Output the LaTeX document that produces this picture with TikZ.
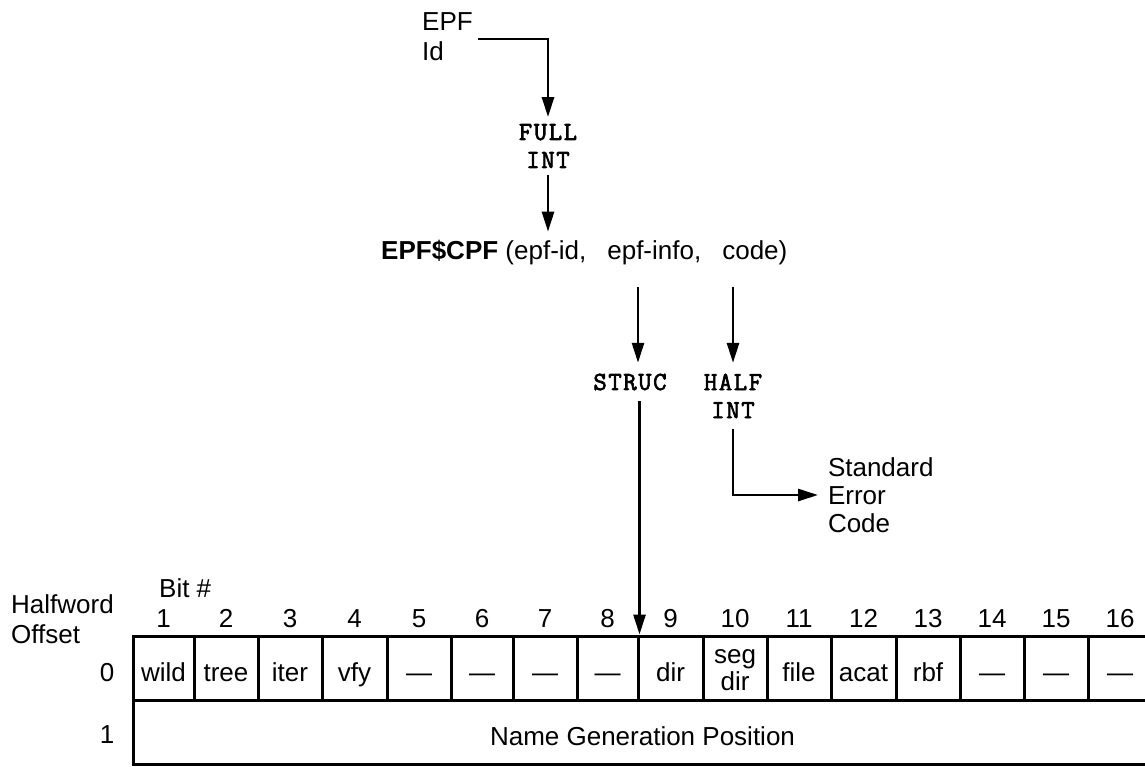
\documentclass[tikz,border=0pt]{standalone}
\usepackage{fontspec}
\setmainfont{Liberation Sans}
\newfontfamily\tyfont[LetterSpace=6,FakeBold=2.5]{Latin Modern Mono}
\usetikzlibrary{arrows.meta}
\begin{document}
\begin{tikzpicture}[x=1pt,y=-1pt,
  lbl/.style={font=\fontsize{26}{30}\selectfont, inner sep=0pt},
  tt/.style={font=\fontsize{26}{28}\tyfont, inner sep=0pt, align=center},
  arr/.style={line width=2.7pt, -{Triangle[length=20pt,width=12pt]}},
  cell/.style={draw, line width=3pt, minimum height=64pt, inner sep=0pt,
    text height=26pt, text depth=0pt, font=\fontsize{26}{28}\selectfont}
]
\useasboundingbox (0,0) rectangle (1145,766);
\clip (0,0) rectangle (1145,766);

% top flow
\node[lbl, align=left, anchor=west] (epf) at (422,37) {EPF\\Id};
\coordinate (e1) at (478,39);
\node[tt, outer sep=7pt] (full) at (548,146) {FULL\\INT};
\draw[arr] (e1) -| (full.north);

\node[lbl, anchor=west, outer ysep=9pt] (cpf) at (381,253)
  {\textbf{EPF\$CPF} (epf-id,\hspace{21pt}epf-info,\hspace{21pt}code)};
\draw[arr] (full.south) -- (full.south |- cpf.north);

\coordinate (s1) at (638,287);
\coordinate (h1) at (733,287);
\node[tt, outer sep=11pt] (struc) at (630,382) {STRUC};
\node[tt, outer sep=11pt] (half) at (733,396) {HALF\\INT};
\draw[arr] (s1) -- (s1 |- struc.north);
\draw[arr] (h1) -- (half.north);

\node[lbl, align=left, anchor=west, outer xsep=10pt,
  font=\fontsize{26}{28}\selectfont] (std) at (818,495) {Standard\\Error\\Code};
\draw[arr] (half.south) |- (std.west);

% labels
\node[lbl, anchor=base west] (bit) at (159,597) {Bit \#};
\node[lbl, align=left, anchor=west] (hw) at (11,619) {Halfword\\Offset};
\node[lbl] (o0) at (107,673) {0};
\node[lbl] (o1) at (107,735) {1};

% table row 0
\foreach \l/\r/\t [count=\i] in {133/194/wild,194/258/tree,258/322/iter,322/387/vfy,
  387/451/—,451/513/—,513/577/—,577/638/—,638/703/dir,703/767/{},767/831/file,
  831/896/acat,896/960/rbf,960/1024/—,1024/1088/—,1088/1152/—}
{
  \node[cell, minimum width={\r-\l}] (b\i) at ({(\l+\r)/2},668) {\t};
  \node[lbl, anchor=base] (n\i) at ({(\l+\r)/2},627) {\i};
}
\node[lbl, align=center, font=\fontsize{26}{27}\selectfont] (t10) at (735,670) {seg\\dir};

% row 1
\node[cell, minimum width=1019pt] (row1) at (642.5,732) {Name Generation Position};

\draw[arr] (b8.north east |- struc.south) -- (b8.north east);
\end{tikzpicture}
\end{document}
